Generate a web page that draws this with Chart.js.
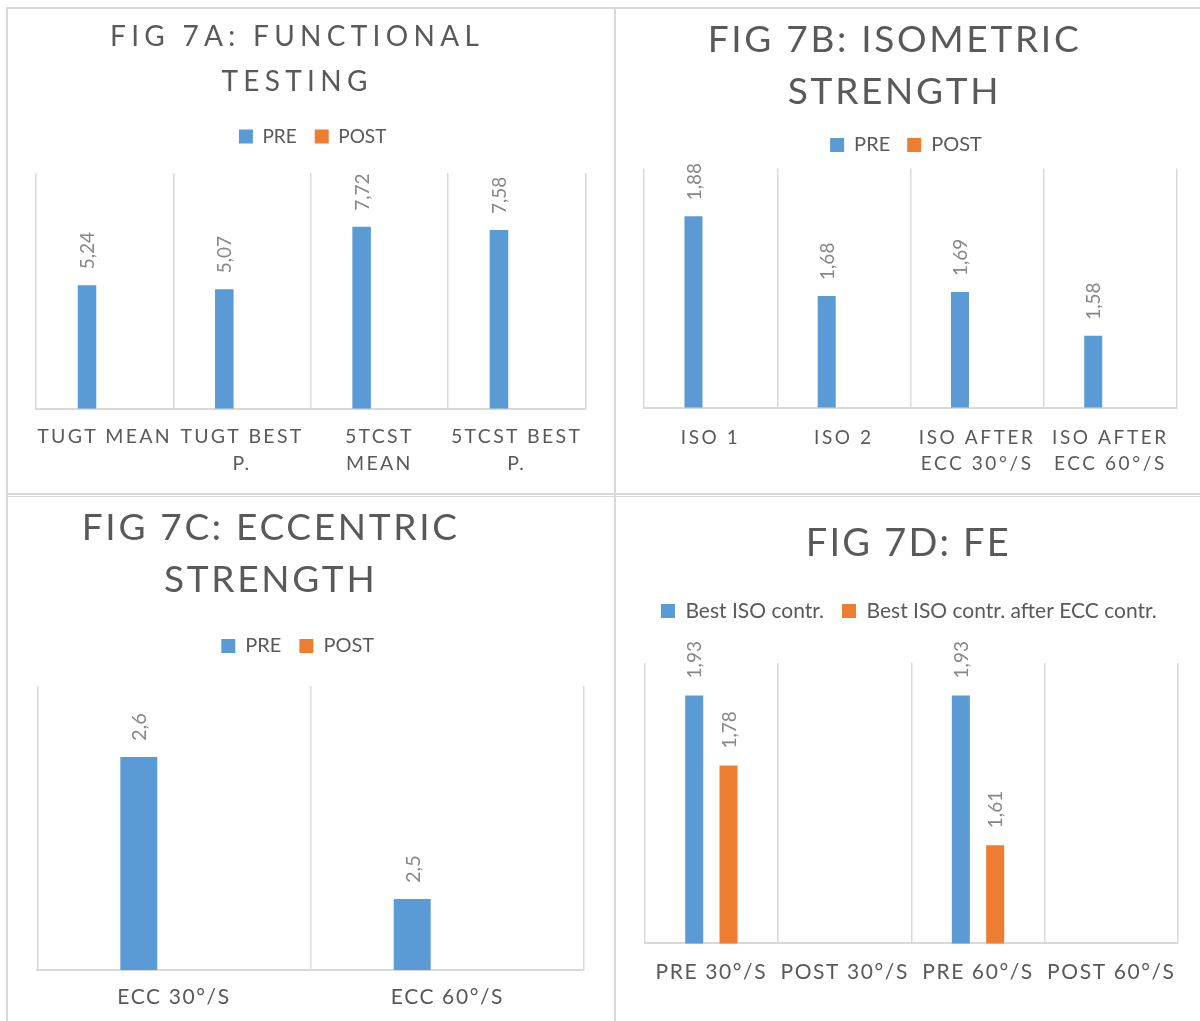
<!DOCTYPE html>
<html><head><meta charset="utf-8">
<script src="https://cdn.jsdelivr.net/npm/chart.js@4.4.1/dist/chart.umd.min.js"></script>
<style>
html,body{margin:0;padding:0;background:#fff;}
body{width:1200px;height:1021px;overflow:hidden;position:relative;}
canvas{position:absolute;}
.ln{position:absolute;background:#d9d9d9;}
</style></head><body>
<div class="ln" style="left:6px;top:7px;width:1194px;height:1.5px"></div>
<div class="ln" style="left:6px;top:7px;width:1.8px;height:1014px"></div>
<div class="ln" style="left:614px;top:7px;width:1.8px;height:1014px"></div>
<div class="ln" style="left:6px;top:493px;width:1194px;height:1.5px"></div>
<div class="ln" style="left:6px;top:495.5px;width:1194px;height:1.5px"></div>
<canvas id="cA" width="606" height="484" style="left:8px;top:9px"></canvas>
<canvas id="cB" width="584" height="486" style="left:616px;top:9px"></canvas>
<canvas id="cC" width="606" height="528" style="left:8px;top:497px"></canvas>
<canvas id="cD" width="584" height="524" style="left:616px;top:497px"></canvas>
<script>
// ---------- DATA ----------
const seriesPrePost = ['PRE', 'POST'];
const seriesFE = ['Best ISO contr.', 'Best ISO contr. after ECC contr.'];

const titleA = ['FIG 7A: FUNCTIONAL', 'TESTING'];
const catsA = [['TUGT MEAN'], ['TUGT BEST', 'P.'], ['5TCST', 'MEAN'], ['5TCST BEST', 'P.']];
const preA = [5.24, 5.07, 7.72, 7.58];
const postA = [null, null, null, null];

const titleB = ['FIG 7B: ISOMETRIC', 'STRENGTH'];
const catsB = [['ISO 1'], ['ISO 2'], ['ISO AFTER', 'ECC 30°/S'], ['ISO AFTER', 'ECC 60°/S']];
const preB = [1.88, 1.68, 1.69, 1.58];
const postB = [null, null, null, null];

const titleC = ['FIG 7C: ECCENTRIC', 'STRENGTH'];
const catsC = ['ECC 30°/S', 'ECC 60°/S'];
const preC = [2.6, 2.5];
const postC = [null, null];

const titleD = ['FIG 7D: FE'];
const catsD = ['PRE 30°/S', 'POST 30°/S', 'PRE 60°/S', 'POST 60°/S'];
const isoD = [1.93, null, 1.93, null];
const isoAfterD = [1.78, null, 1.61, null];

// y-axis ranges (hidden axes)
const yRangeA = [0, 10];
const yRangeB = [1.4, 2.0];
const yRangeC = [2.45, 2.65];
const yRangeD = [1.4, 2.0];

// ---------- STYLE ----------
const BLUE = '#5B9BD5', ORANGE = '#ED7D31', TXT = '#595959', GRID = '#D9D9D9', LBL = '#878787';
const FAMILY = 'Lato, "Open Sans", "DejaVu Sans", sans-serif';
Chart.defaults.font.family = FAMILY;

function tweaks(cfg) {
  return {
    id: 'tweaks',
    beforeInit(chart) {
      const lg = chart.legend;
      const fit = lg.fit;
      lg.fit = function () { fit.call(this); if (this.height) this.height += cfg.legendExtra; };
      const ldraw = lg.draw;
      lg.draw = function (...a) { const c = chart.ctx; c.save(); c.translate(cfg.legendDx, 0); ldraw.apply(this, a); c.restore(); };
      const t = chart.titleBlock;
      const tdraw = t.draw;
      t.draw = function (...a) { const c = chart.ctx; c.save(); c.letterSpacing = cfg.titleSp + 'px'; c.translate(cfg.titleDx, 0); tdraw.apply(this, a); c.restore(); };
    },
    beforeDraw(chart) {
      const x = chart.scales.x;
      if (!x._spWrapped) {
        const dl = x.drawLabels;
        x.drawLabels = function (...a) { const c = chart.ctx; c.save(); c.letterSpacing = cfg.tickSp + 'px'; dl.apply(this, a); c.restore(); };
        x._spWrapped = true;
      }
    },
    afterDatasetsDraw(chart) {
      const c = chart.ctx;
      chart.data.datasets.forEach((ds, i) => {
        const meta = chart.getDatasetMeta(i);
        meta.data.forEach((bar, j) => {
          const v = ds.data[j];
          if (v === null || v === undefined) return;
          c.save();
          c.translate(bar.x + 1, bar.y - cfg.lblGap);
          c.rotate(-Math.PI / 2);
          c.font = cfg.lblSize + 'px ' + FAMILY;
          c.fillStyle = LBL;
          c.textAlign = 'left';
          c.textBaseline = 'middle';
          c.fillText(String(v).replace('.', ','), 0, 0);
          c.restore();
        });
      });
    }
  };
}

function makeChart(id, p) {
  new Chart(document.getElementById(id), {
    type: 'bar',
    data: {
      labels: p.labels,
      datasets: p.series.map((name, i) => ({
        label: name,
        data: p.values[i],
        backgroundColor: i === 0 ? BLUE : ORANGE,
        borderWidth: 0,
        categoryPercentage: 0.515,
        barPercentage: 0.525
      }))
    },
    options: {
      responsive: false,
      animation: false,
      events: [],
      layout: { padding: p.pad },
      plugins: {
        tooltip: { enabled: false },
        title: {
          display: true, text: p.title, color: TXT,
          font: { size: p.titleSize, weight: 'normal', lineHeight: p.titleLH },
          padding: p.titlePad
        },
        legend: {
          display: true, position: 'top',
          labels: {
            color: TXT, boxWidth: 14, boxHeight: 14, padding: p.legPad,
            font: { size: p.legSize }
          }
        }
      },
      scales: {
        x: {
          grid: { color: GRID, lineWidth: 1.5, drawTicks: false, offset: true },
          border: { color: GRID, width: 2 },
          ticks: {
            color: TXT, maxRotation: 0, minRotation: 0, autoSkip: false,
            padding: p.tickPad, font: { size: p.tickSize, lineHeight: 1.385 }
          }
        },
        y: { display: false, min: p.yRange[0], max: p.yRange[1] }
      }
    },
    plugins: [tweaks(p.tw)]
  });
}

makeChart('cA', {
  labels: catsA, series: seriesPrePost, values: [preA, postA], yRange: yRangeA,
  title: titleA, titleSize: 28, titleLH: 1.586, titlePad: { top: 6, bottom: 5.2 },
  legSize: 19, legPad: 18, tickSize: 19.5, tickPad: 14.5,
  pad: { left: 28, right: 28.7, top: 0, bottom: 1.2 },
  tw: { legendExtra: 17, legendDx: 2, titleDx: -13.6, titleSp: 5.3, tickSp: 2.3, lblGap: 16, lblSize: 19 }
});
makeChart('cB', {
  labels: catsB, series: seriesPrePost, values: [preB, postB], yRange: yRangeB,
  title: titleB, titleSize: 37, titleLH: 1.4054, titlePad: { top: 5, bottom: 0 },
  legSize: 20, legPad: 17, tickSize: 19, tickPad: 16.85,
  pad: { left: 28, right: 23, top: 0, bottom: 1.15 },
  tw: { legendExtra: 3.5, legendDx: -4.5, titleDx: -16, titleSp: 2.7, tickSp: 2.6, lblGap: 16, lblSize: 19 }
});
makeChart('cC', {
  labels: catsC, series: seriesPrePost, values: [preC, postC], yRange: yRangeC,
  title: titleC, titleSize: 37, titleLH: 1.4054, titlePad: { top: 5, bottom: 12 },
  legSize: 20, legPad: 18, tickSize: 21, tickPad: 12.2,
  pad: { left: 29.3, right: 29.9, top: 0, bottom: 1.5 },
  tw: { legendExtra: 20, legendDx: -13, titleDx: -40, titleSp: 2.7, tickSp: 1.6, lblGap: 16, lblSize: 20 }
});
makeChart('cD', {
  labels: catsD, series: seriesFE, values: [isoD, isoAfterD], yRange: yRangeD,
  title: titleD, titleSize: 38, titleLH: 1.368, titlePad: { top: 21, bottom: 12.5 },
  legSize: 21, legPad: 18, tickSize: 21, tickPad: 13.8,
  pad: { left: 28.7, right: 22, top: 0, bottom: 20.9 },
  tw: { legendExtra: 31.2, legendDx: -2.5, titleDx: -3, titleSp: 2.2, tickSp: 1.6, lblGap: 17, lblSize: 19 }
});
</script>
</body></html>
